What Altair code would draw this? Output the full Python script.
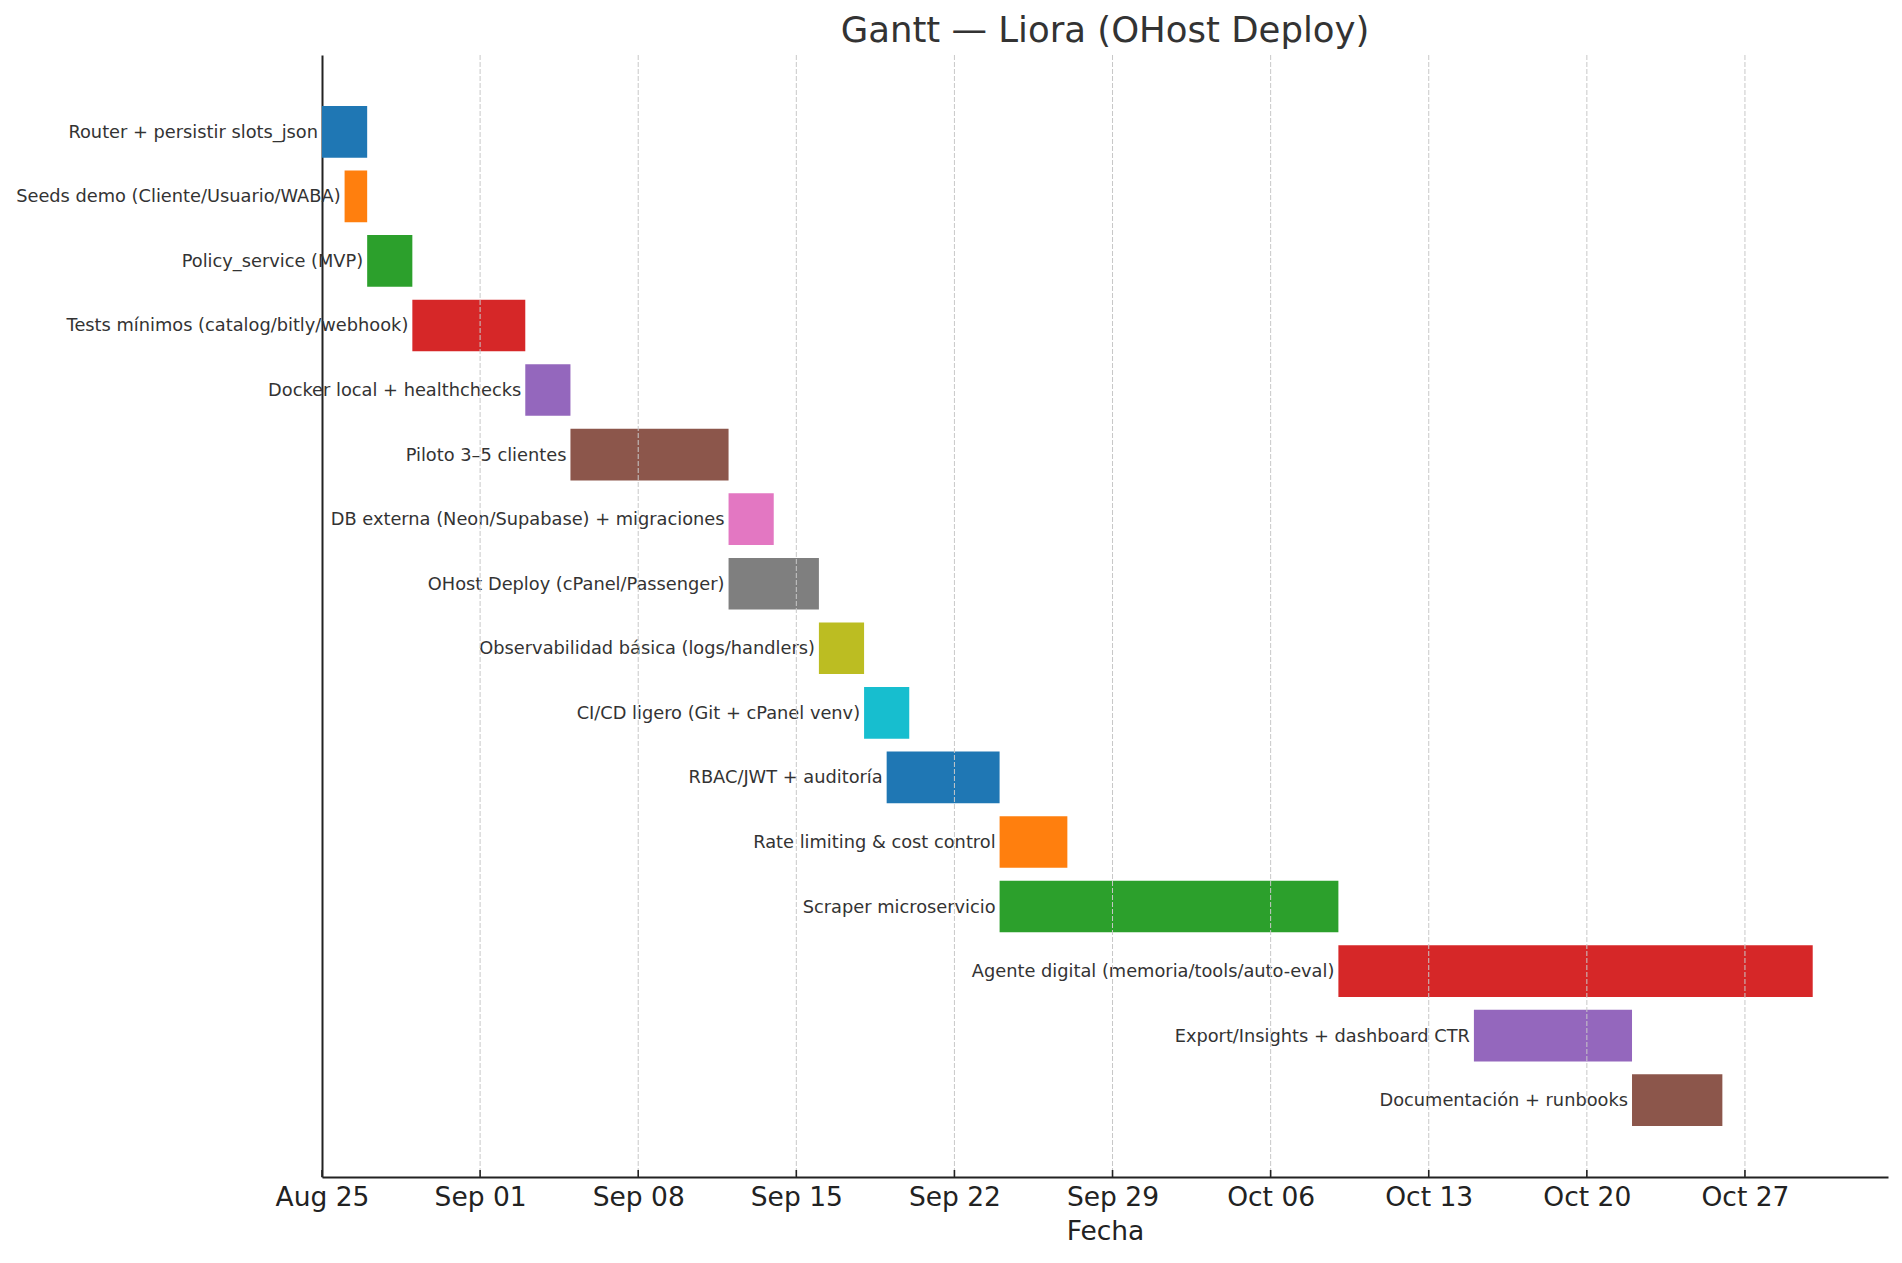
import altair as alt
import pandas as pd

tasks = [
    "Router + persistir slots_json",
    "Seeds demo (Cliente/Usuario/WABA)",
    "Policy_service (MVP)",
    "Tests mínimos (catalog/bitly/webhook)",
    "Docker local + healthchecks",
    "Piloto 3–5 clientes",
    "DB externa (Neon/Supabase) + migraciones",
    "OHost Deploy (cPanel/Passenger)",
    "Observabilidad básica (logs/handlers)",
    "CI/CD ligero (Git + cPanel venv)",
    "RBAC/JWT + auditoría",
    "Rate limiting & cost control",
    "Scraper microservicio",
    "Agente digital (memoria/tools/auto-eval)",
    "Export/Insights + dashboard CTR",
    "Documentación + runbooks",
]
starts = [
    "2025-08-25", "2025-08-26", "2025-08-27", "2025-08-29", "2025-09-03",
    "2025-09-05", "2025-09-12", "2025-09-12", "2025-09-16", "2025-09-18",
    "2025-09-19", "2025-09-24", "2025-09-24", "2025-10-09", "2025-10-15",
    "2025-10-22",
]
ends = [
    "2025-08-27", "2025-08-27", "2025-08-29", "2025-09-03", "2025-09-05",
    "2025-09-12", "2025-09-14", "2025-09-16", "2025-09-18", "2025-09-20",
    "2025-09-24", "2025-09-27", "2025-10-09", "2025-10-30", "2025-10-22",
    "2025-10-26",
]
colors = [
    "#1f77b4", "#ff7f0e", "#2ca02c", "#d62728", "#9467bd", "#8c564b",
    "#e377c2", "#7f7f7f", "#bcbd22", "#17becf", "#1f77b4", "#ff7f0e",
    "#2ca02c", "#d62728", "#9467bd", "#8c564b",
]
tick_dates = [
    "2025-08-25", "2025-09-01", "2025-09-08", "2025-09-15", "2025-09-22",
    "2025-09-29", "2025-10-06", "2025-10-13", "2025-10-20", "2025-10-27",
]

df = pd.DataFrame({
    "task": tasks,
    "start": [s + "T00:00:00" for s in starts],
    "end": [e + "T00:00:00" for e in ends],
    "color": colors,
})
ticks_df = pd.DataFrame({"d": [t + "T00:00:00" for t in tick_dates]})

W, H = 1566, 1122
FONT = "DejaVu Sans"
AXC = "#222222"


def dt(s):
    y, m, d = (int(v) for v in s.split("-"))
    return alt.DateTime(year=y, month=m, date=d)


xscale = alt.Scale(
    type="time",
    domain=[alt.DateTime(year=2025, month=8, date=25),
            alt.DateTime(year=2025, month=11, date=2, hours=8)],
)
yscale = alt.Scale(domain=tasks, paddingInner=0.2, paddingOuter=0.79)

# dashed vertical gridlines (drawn above the bars, as in the reference)
grid = alt.Chart(ticks_df).mark_rule(
    color="#c8c8c8", strokeWidth=1, strokeDash=[5, 2]
).encode(
    x=alt.X(
        "d:T",
        scale=xscale,
        axis=alt.Axis(
            values=[dt(t) for t in tick_dates],
            format="%b %d",
            title="Fecha",
            grid=False,
            ticks=False,
            domainColor=AXC,
            domainWidth=2,
            labelFont=FONT,
            labelFontSize=26.5,
            labelColor=AXC,
            labelPadding=7,
            labelFlush=False,
            labelOverlap=False,
            titleFont=FONT,
            titleFontSize=26.5,
            titleFontWeight="normal",
            titleColor=AXC,
            titlePadding=8,
        ),
    ),
).transform_filter("time(datum.d) > time(datetime(2025, 7, 25, 12))")

bars = alt.Chart(df).mark_bar().encode(
    x=alt.X("start:T", scale=xscale),
    x2="end:T",
    y=alt.Y(
        "task:N",
        scale=yscale,
        sort=tasks,
        axis=alt.Axis(
            labels=False, ticks=False, grid=False, title=None,
            domain=True, domainColor=AXC, domainWidth=2,
        ),
    ),
    color=alt.Color("color:N", scale=None),
)

labels = alt.Chart(df).mark_text(
    align="right", baseline="middle", dx=-4, dy=1,
    font=FONT, fontSize=17.8, color="#333333",
).encode(
    x=alt.X("start:T", scale=xscale),
    y=alt.Y("task:N", scale=yscale, sort=tasks),
    text="task:N",
)

tickmarks = alt.Chart(ticks_df).mark_rule(color=AXC, strokeWidth=1.6).encode(
    x=alt.X("d:T", scale=xscale),
    y=alt.value(H - 7),
    y2=alt.value(H),
)

chart = alt.layer(bars, labels, grid, tickmarks).properties(
    width=W,
    height=H,
    title=alt.TitleParams(
        "Gantt — Liora (OHost Deploy)",
        font=FONT,
        fontSize=35.5,
        fontWeight="normal",
        color="#333333",
        anchor="middle",
        offset=5,
    ),
    autosize=alt.AutoSizeParams(type="none"),
    padding={"left": 314, "top": 47, "right": 6, "bottom": 78},
).configure_view(stroke=None)

chart.save("out.html", embed_options={"renderer": "svg", "actions": False})
